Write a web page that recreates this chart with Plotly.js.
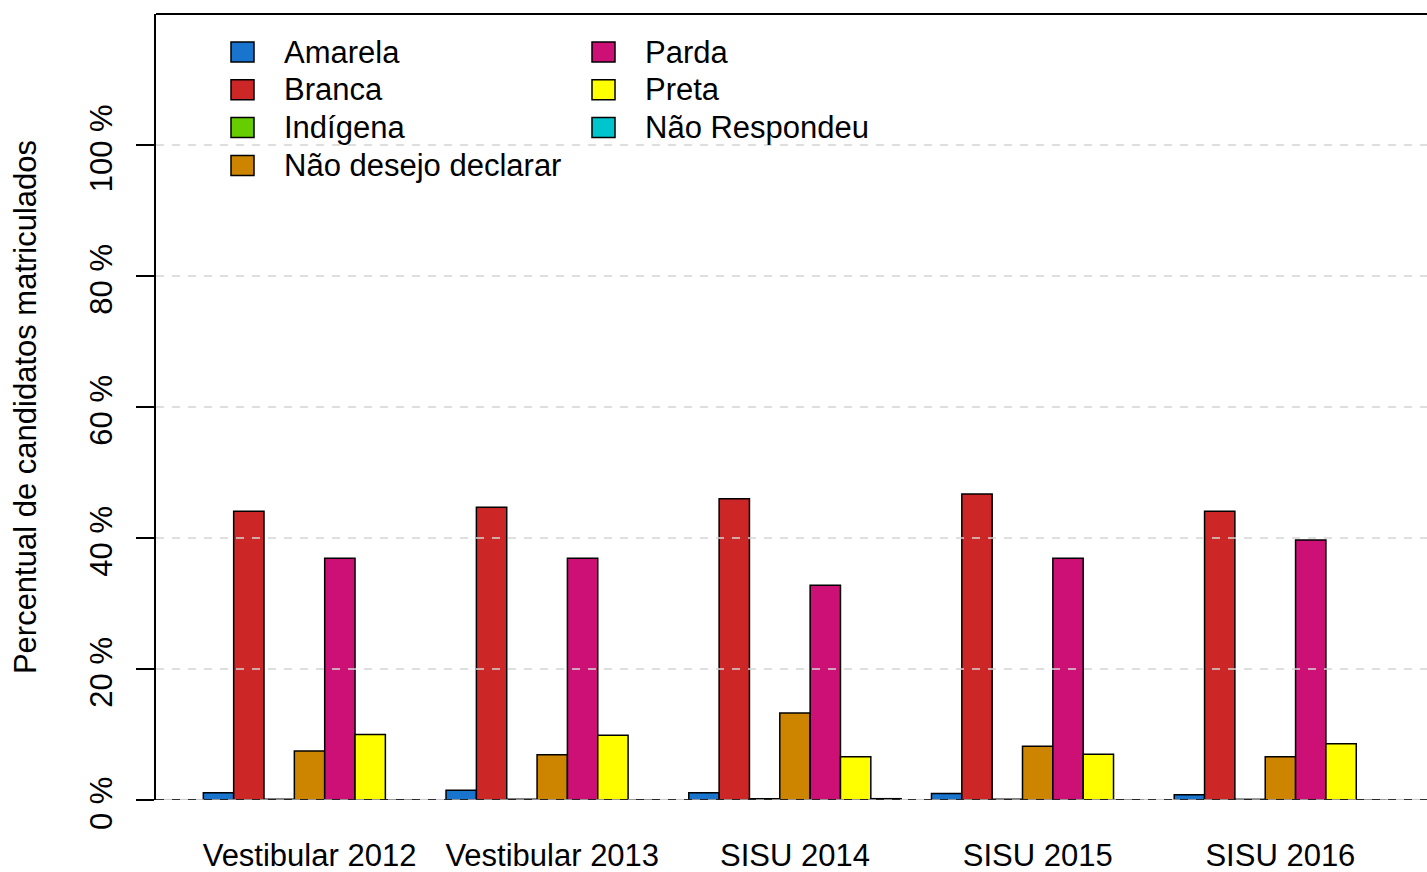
<!DOCTYPE html>
<html>
<head>
<meta charset="utf-8">
<script src="https://cdn.plot.ly/plotly-3.0.1.min.js"></script>
<style>html,body{margin:0;padding:0;background:#fff;}#chart{width:1427px;height:872px;}</style>
</head>
<body>
<div id="chart"></div>
<script>
// ---- data ----
var groups = ["Vestibular 2012", "Vestibular 2013", "SISU 2014", "SISU 2015", "SISU 2016"];
var seriesNames = ["Amarela", "Branca", "Indígena", "Não desejo declarar", "Parda", "Preta", "Não Respondeu"];
var amarela    = [1.1, 1.5, 1.1, 1.0, 0.8];
var branca     = [44.1, 44.7, 46.0, 46.7, 44.1];
var indigena   = [0.1, 0.1, 0.2, 0.1, 0.1];
var naoDesejo  = [7.5, 6.9, 13.3, 8.2, 6.6];
var parda      = [36.9, 36.9, 32.8, 36.9, 39.7];
var preta      = [10.0, 9.9, 6.6, 7.0, 8.6];
var naoResp    = [0.0, 0.0, 0.2, 0.0, 0.0];
var tickValues = [0, 20, 40, 60, 80, 100];
var tickLabels = ["0 %", "20 %", "40 %", "60 %", "80 %", "100 %"];

// ---- styles ----
var colors = ["#1874CD", "#CD2626", "#66CD00", "#CD8500", "#CD1076", "#FFFF00", "#00C5CD"];
var seriesValues = [amarela, branca, indigena, naoDesejo, parda, preta, naoResp];
var FONT = "Liberation Sans, Arial, Helvetica, sans-serif";
var FS = 31;

// plot area in pixels (for the hand-built R-style legend)
var W = 1427, H = 872, ML = 156, MR = 0, MT = 14, MB = 72;
var PW = W - ML - MR, PH = H - MT - MB;
function px2x(px) { return (px - ML) / PW; }
function py2y(py) { return (H - MB - py) / PH; }

var traces = seriesValues.map(function (vals, i) {
  return {
    type: "bar",
    name: seriesNames[i],
    x: groups,
    y: vals,
    marker: {color: colors[i], line: {color: "#000000", width: 1.5}},
    showlegend: false,
    hoverinfo: "x+y+name"
  };
});

var shapes = [];
tickValues.forEach(function (v) {
  if (v === 0) return;
  shapes.push({type: "line", layer: "above", xref: "paper", yref: "y", x0: 0, x1: 1, y0: v, y1: v,
    line: {color: "#D3D3D3", width: 1.5, dash: "8px,8px"}});
});
shapes.push({type: "line", layer: "above", xref: "paper", yref: "y", x0: 0, x1: 1, y0: 0, y1: 0,
  line: {color: "#BEBEBE", width: 1.5}});
shapes.push({type: "line", layer: "above", xref: "paper", yref: "y", x0: 0, x1: 1, y0: 0, y1: 0,
  line: {color: "#000000", width: 1.5, dash: "8px,8px"}});
shapes.push({type: "line", layer: "above", xref: "paper", yref: "paper", x0: 0, x1: 1, y0: 1, y1: 1,
  line: {color: "#000000", width: 2}});

// legend (R style: two columns, filled column-first)
var annotations = [];
var colBoxX = [231, 592];     // left edge of key box, px
var colTextX = [283, 644];    // left edge of label, px
var rowY0 = 52, rowStep = 37.8, boxW = 23, boxH = 20;
seriesNames.forEach(function (name, i) {
  var col = i < 4 ? 0 : 1;
  var row = i < 4 ? i : i - 4;
  var cy = rowY0 + row * rowStep;
  shapes.push({type: "rect", layer: "above", xref: "paper", yref: "paper",
    x0: px2x(colBoxX[col]), x1: px2x(colBoxX[col] + boxW),
    y0: py2y(cy + boxH / 2), y1: py2y(cy - boxH / 2),
    fillcolor: colors[i], line: {color: "#000", width: 1.5}});
  annotations.push({xref: "paper", yref: "paper", x: px2x(colTextX[col]), y: py2y(cy),
    xanchor: "left", yanchor: "middle", text: name, showarrow: false,
    font: {family: FONT, size: FS, color: "#000"}, borderpad: 0});
});

var layout = {
  width: W,
  height: H,
  paper_bgcolor: "#ffffff",
  plot_bgcolor: "#ffffff",
  margin: {l: ML, r: MR, t: MT, b: MB, pad: 0},
  font: {family: FONT, color: "#000"},
  barmode: "group",
  bargap: 0.125,
  bargroupgap: 0,
  showlegend: false,
  xaxis: {
    type: "category",
    range: [-0.6325, 4.604],
    showline: false,
    showgrid: false,
    zeroline: false,
    ticks: "outside",
    ticklen: 28,
    tickcolor: "rgba(0,0,0,0)",
    tickfont: {family: FONT, size: FS, color: "#000"}
  },
  yaxis: {
    range: [0, 120],
    tickvals: tickValues,
    ticktext: tickLabels,
    tickangle: -90,
    ticks: "outside",
    ticklen: 18,
    tickwidth: 1.5,
    tickcolor: "#000",
    showline: true,
    linewidth: 2,
    linecolor: "#000",
    showgrid: false,
    zeroline: false,
    ticklabelstandoff: 12,
    ticklabelshift: 8,
    tickfont: {family: FONT, size: FS, color: "#000"},
    title: {text: "Percentual de candidatos matriculados", font: {family: FONT, size: FS, color: "#000"}, standoff: 38}
  },
  shapes: shapes,
  annotations: annotations
};

Plotly.newPlot("chart", traces, layout, {displayModeBar: false});
</script>
</body>
</html>
